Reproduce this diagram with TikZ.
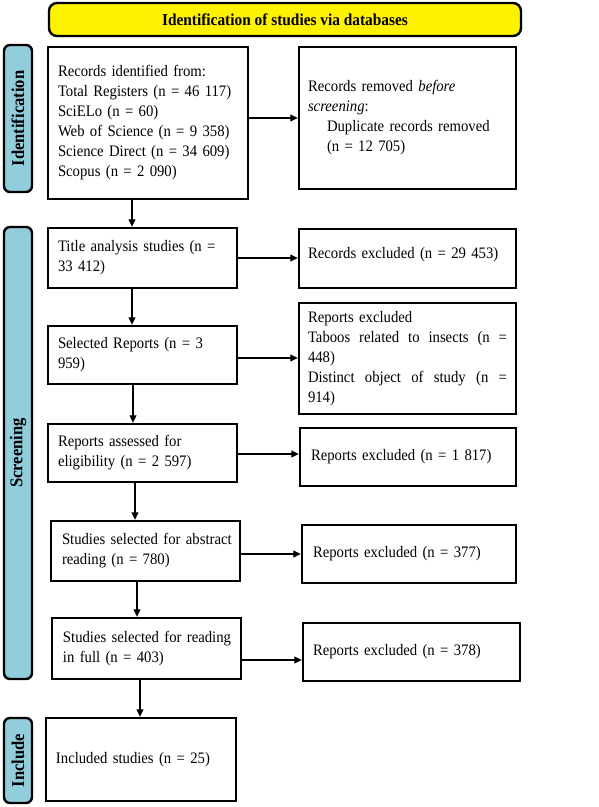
\documentclass[tikz,border=0pt]{standalone}
\usepackage{fontspec}
\setmainfont{Liberation Serif}[FakeStretch=0.92]
\usetikzlibrary{arrows.meta}
\definecolor{lblue}{HTML}{92CDDC}
\newcommand{\jline}[1]{\leavevmode\hbox to 199pt{#1}}
\begin{document}
\begin{tikzpicture}[x=1pt,y=-1pt,
  txt/.style={font=\fontsize{16}{20}\selectfont},
  box/.style={draw, line width=2.4pt, inner sep=0pt, align=left, txt},
  side/.style={draw, line width=2.4pt, fill=lblue, rounded corners=6pt, inner sep=0pt,
    rotate=90, font=\fontsize{18}{20}\selectfont\bfseries},
  arr/.style={line width=1.1pt, -{Triangle[length=7.5pt,width=7pt]}}
]
\useasboundingbox (0,0) rectangle (598,807);
% header
\node[draw, fill=yellow, line width=2.4pt, rounded corners=8pt, minimum width=472pt,
  minimum height=33pt, inner sep=0pt, font=\fontsize{16.7}{20}\selectfont\bfseries]
  (hdr) at (285,19.5) {Identification of studies via databases};
% side labels
\node[side, minimum width=147pt, minimum height=28pt] (idl) at (18,118.5) {Identification};
\node[side, minimum width=452pt, minimum height=28pt] (scl) at (18,453) {Screening};
\node[side, minimum width=85pt, minimum height=28pt] (inl) at (18,760.5) {Include};
% boxes
\node[box, minimum width=200pt, minimum height=152pt, text width=180pt] (b1) at (148,123)
  {Records identified from:\\ Total Registers (n = 46 117)\\ SciELo (n = 60)\\
   Web of Science (n = 9 358)\\ Science Direct (n = 34 609)\\ Scopus (n = 2 090)};
\node[box, minimum width=217pt, minimum height=142pt, text width=199pt] (b2) at (407.5,118)
  {Records removed \textit{before}\\ \textit{screening}:\\
   \hspace*{19pt}Duplicate records removed\\ \hspace*{19pt}(n = 12 705)};
\node[box, minimum width=189pt, minimum height=60pt, text width=169pt] (t1) at (142.5,258)
  {\mbox{Title analysis studies (n =}\\ 33 412)};
\node[box, minimum width=217pt, minimum height=59pt, text width=199pt, text depth=11pt] (r1) at (407.5,258.5)
  {Records excluded (n = 29 453)};
\node[box, minimum width=189pt, minimum height=58pt, text width=169pt] (s1) at (142.5,355)
  {Selected Reports (n = 3\\ 959)};
\node[box, minimum width=217pt, minimum height=111pt, text width=199pt] (r2) at (407.5,358.5)
  {Reports excluded\\ \jline{Taboos\hfill related\hfill to\hfill insects\hfill (n\hfill =}\\ 448)\\
   \jline{Distinct\hfill object\hfill of\hfill study\hfill (n\hfill =}\\ 914)};
\node[box, minimum width=189pt, minimum height=58pt, text width=169pt] (a1) at (142.5,453)
  {Reports assessed for\\ eligibility (n = 2 597)};
\node[box, minimum width=216pt, minimum height=58pt, text width=194pt] (r3) at (408,457)
  {Reports excluded (n = 1 817)};
\node[box, minimum width=189pt, minimum height=60pt, text width=167pt] (ab) at (145.5,551)
  {\mbox{Studies selected for abstract}\\ reading (n = 780)};
\node[box, minimum width=214pt, minimum height=58pt, text width=192pt] (r4) at (409,554)
  {Reports excluded (n = 377)};
\node[box, minimum width=189pt, minimum height=61pt, text width=167pt] (fu) at (146.5,648.5)
  {\mbox{Studies selected for reading}\\ in full (n = 403)};
\node[box, minimum width=217pt, minimum height=58pt, text width=197pt] (r5) at (411.5,652)
  {Reports excluded (n = 378)};
\node[box, minimum width=190pt, minimum height=83pt, text width=170pt] (inc) at (141,759.5)
  {Included studies (n = 25)};
% arrows
\draw[arr] (b1.east |- 0,118) -- (b2.west |- 0,118);
\draw[arr] (b1.south -| 132,0) -- (t1.north -| 132,0);
\draw[arr] (t1.east |- 0,258) -- (r1.west |- 0,258);
\draw[arr] (t1.south -| 132,0) -- (s1.north -| 132,0);
\draw[arr] (s1.east |- 0,358) -- (r2.west |- 0,358);
\draw[arr] (s1.south -| 133,0) -- (a1.north -| 133,0);
\draw[arr] (a1.east |- 0,454) -- (r3.west |- 0,454);
\draw[arr] (a1.south -| 135,0) -- (ab.north -| 135,0);
\draw[arr] (ab.east |- 0,554) -- (r4.west |- 0,554);
\draw[arr] (ab.south -| 137,0) -- (fu.north -| 137,0);
\draw[arr] (fu.east |- 0,660) -- (r5.west |- 0,660);
\draw[arr] (fu.south -| 140,0) -- (inc.north -| 140,0);
\end{tikzpicture}
\end{document}
